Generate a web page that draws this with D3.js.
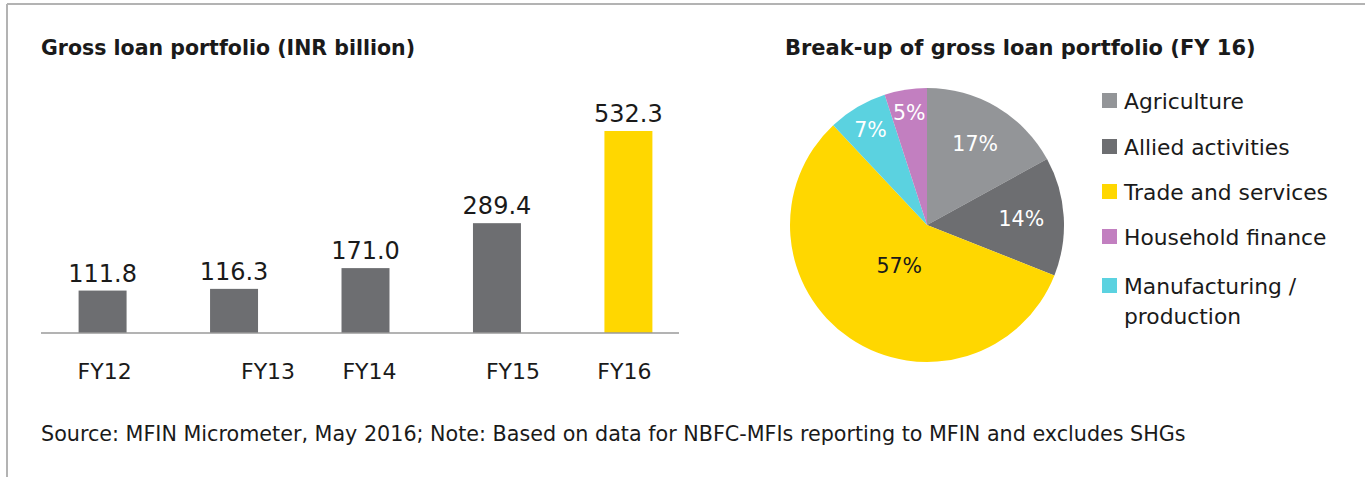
<!DOCTYPE html>
<html>
<head>
<meta charset="utf-8">
<script src="https://cdn.jsdelivr.net/npm/d3@7"></script>
<style>
  body { margin: 0; background: #fff; }
  text { font-family: "DejaVu Sans", sans-serif; fill: #1a1a1a; }
</style>
</head>
<body>
<svg></svg>
<script>
// chart data
let years = ['FY12', 'FY13', 'FY14', 'FY15', 'FY16'];
let loans = [111.8, 116.3, 171.0, 289.4, 532.3];

let sectors = ['Agriculture', 'Allied activities', 'Trade and services', 'Manufacturing / production', 'Household finance'];
let shares = [17, 14, 57, 7, 5];
let legendOrder = ['Agriculture', 'Allied activities', 'Trade and services', 'Household finance', 'Manufacturing / production'];

let sectorColors = {
    'Agriculture': '#939598',
    'Allied activities': '#6d6e71',
    'Trade and services': '#ffd700',
    'Manufacturing / production': '#5bd2e0',
    'Household finance': '#c27fc0'
};

let width = 1365;
let height = 477;

let svg = d3.select('svg')
    .attr('width', width)
    .attr('height', height);

// frame lines (top and left)
svg.append('line')
    .attr('x1', 7).attr('x2', width).attr('y1', 4).attr('y2', 4)
    .attr('stroke', '#b3b3b3').attr('stroke-width', 2);
svg.append('line')
    .attr('x1', 7).attr('x2', 7).attr('y1', 4).attr('y2', height)
    .attr('stroke', '#b3b3b3').attr('stroke-width', 2);

// ---- bar chart ----
let baseY = 333;

svg.append('text')
    .attr('x', 41).attr('y', 55)
    .style('font-size', '20.5px').style('font-weight', 'bold')
    .text('Gross loan portfolio (INR billion)');

let xScale = d3.scaleBand()
    .domain(years)
    .range([41, 690])
    .paddingInner(0.635)
    .paddingOuter(0.286);

let yScale = d3.scaleLinear()
    .domain([0, d3.max(loans)])
    .range([baseY, 131]);

let barG = svg.append('g');

barG.selectAll('rect')
    .data(loans)
    .enter()
    .append('rect')
    .attr('x', (d, i) => xScale(years[i]))
    .attr('y', d => yScale(d))
    .attr('width', xScale.bandwidth())
    .attr('height', d => baseY - yScale(d))
    .attr('fill', (d, i) => i === years.length - 1 ? '#ffd700' : '#6d6e71');

barG.selectAll('.val')
    .data(loans)
    .enter()
    .append('text')
    .attr('class', 'val')
    .attr('x', (d, i) => xScale(years[i]) + xScale.bandwidth() / 2)
    .attr('y', d => yScale(d) - 9)
    .attr('text-anchor', 'middle')
    .style('font-size', '24px')
    .text(d => d.toFixed(1));

// baseline
svg.append('line')
    .attr('x1', 41).attr('x2', 679)
    .attr('y1', baseY).attr('y2', baseY)
    .attr('stroke', '#9a9a9a').attr('stroke-width', 1.5);

// category labels, the original sets them slightly off the bar centres
let tickNudge = [2, 34, 4, 16, -4];
let xAxis = d3.axisBottom(xScale).tickSize(0).tickPadding(30);
let axisG = svg.append('g')
    .attr('transform', `translate(0, ${baseY})`)
    .call(xAxis);
axisG.select('.domain').remove();
axisG.selectAll('text')
    .attr('dx', (d, i) => tickNudge[i])
    .style('font-size', '22px')
    .style('font-family', '"DejaVu Sans", sans-serif')
    .attr('fill', '#1a1a1a');

// ---- pie chart ----
svg.append('text')
    .attr('x', 785).attr('y', 55)
    .style('font-size', '21px').style('font-weight', 'bold')
    .text('Break-up of gross loan portfolio (FY 16)');

let cx = 927, cy = 225, radius = 137;
let pieG = svg.append('g').attr('transform', `translate(${cx}, ${cy})`);

let pie = d3.pie().sort(null).value(d => d);
let arcs = pie(shares);
let arc = d3.arc().innerRadius(0).outerRadius(radius);

pieG.selectAll('path')
    .data(arcs)
    .enter()
    .append('path')
    .attr('d', arc)
    .attr('fill', (d, i) => sectorColors[sectors[i]]);

// label distance from centre, as a share of the radius
let labelR = [0.69, 0.69, 0.36, 0.81, 0.83];
pieG.selectAll('.pct')
    .data(arcs)
    .enter()
    .append('text')
    .attr('class', 'pct')
    .attr('transform', (d, i) => {
        let a = (d.startAngle + d.endAngle) / 2;
        let r = labelR[i] * radius;
        return `translate(${Math.sin(a) * r}, ${-Math.cos(a) * r})`;
    })
    .attr('text-anchor', 'middle')
    .attr('dy', '0.36em')
    .style('font-size', '20.5px')
    .style('fill', (d, i) => sectors[i] === 'Trade and services' ? '#1a1a1a' : '#ffffff')
    .text(d => d.data + '%');

// legend
let legendY = [101, 147, 192, 237, 286];
let legG = svg.append('g');
legendOrder.forEach(function(name, i) {
    legG.append('rect')
        .attr('x', 1102).attr('y', legendY[i] - 8)
        .attr('width', 15).attr('height', 15)
        .attr('fill', sectorColors[name]);
    let parts = name.split(' / ');
    let t = legG.append('text')
        .attr('x', 1124).attr('y', legendY[i])
        .attr('dy', '0.36em')
        .style('font-size', '21.8px');
    if (parts.length > 1) {
        t.append('tspan').attr('x', 1124).text(parts[0] + ' /');
        t.append('tspan').attr('x', 1124).attr('dy', '1.4em').text(parts[1]);
    } else {
        t.text(name);
    }
});

// source note
svg.append('text')
    .attr('x', 41).attr('y', 441)
    .style('font-size', '20.7px')
    .text('Source: MFIN Micrometer, May 2016; Note: Based on data for NBFC-MFIs reporting to MFIN and excludes SHGs');
</script>
</body>
</html>
